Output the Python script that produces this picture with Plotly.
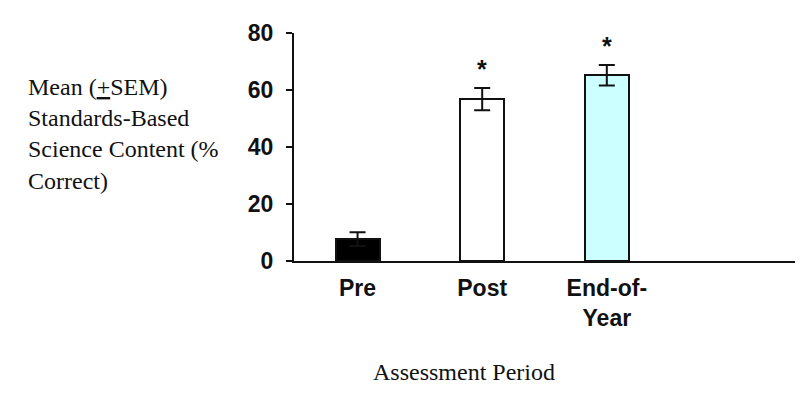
import plotly.graph_objects as go

categories = ["Pre", "Post", "End-of-<br>Year"]
means = [7.7, 56.8, 65.2]
sems = [2.4, 3.9, 3.6]
bar_colors = ["#000000", "#ffffff", "#ccffff"]
significant = [False, True, True]
y_ticks = [0, 20, 40, 60, 80]

x_pos = list(range(len(categories)))

fig = go.Figure()
fig.add_trace(go.Bar(
    x=x_pos, y=means, width=0.353,
    marker=dict(color=bar_colors, line=dict(color="#111111", width=2)),
    error_y=dict(type="data", array=sems, visible=True, color="#111111",
                 thickness=2, width=8),
    showlegend=False,
))

for i, sig in enumerate(significant):
    if sig:
        fig.add_annotation(x=x_pos[i], y=means[i] + sems[i], text="<b>*</b>",
                           showarrow=False, yanchor="bottom", yshift=3,
                           font=dict(family="Liberation Sans, Arial", size=25, color="#111111"))

# page body has an 8px margin, so the figure is drawn 8px in from the corner
fig.update_layout(
    width=799, height=388,
    margin=dict(l=286, r=12, t=23, b=135),
    plot_bgcolor="white", paper_bgcolor="white",
    bargap=0,
    xaxis=dict(
        range=[-0.51, 3.51], tickmode="array", tickvals=x_pos, ticktext=categories,
        showline=True, linecolor="#111111", linewidth=2, showgrid=False,
        zeroline=False, ticks="", ticklabelstandoff=5,
        tickfont=dict(family="Liberation Sans, Arial", size=23, color="#111111", weight="bold"),
    ),
    yaxis=dict(
        range=[0, 80], tickvals=y_ticks, showline=True, linecolor="#111111",
        linewidth=2, showgrid=False, zeroline=False, ticks="outside", ticklen=6,
        tickwidth=2, tickcolor="#111111", ticklabelstandoff=8,
        tickfont=dict(family="Liberation Sans, Arial", size=23, color="#111111", weight="bold"),
    ),
)

fig.add_annotation(
    xref="paper", yref="paper", x=-0.535, y=0.83,
    text="Mean (<u>+</u>SEM)<br>Standards-Based<br>Science Content (%<br>Correct)",
    showarrow=False, xanchor="left", yanchor="top", align="left",
    font=dict(family="Liberation Serif, Times New Roman", size=24, color="#111111"),
)
fig.add_annotation(
    xref="paper", yref="paper", x=0.339, y=-0.422,
    text="Assessment Period", showarrow=False, xanchor="center", yanchor="top",
    font=dict(family="Liberation Serif, Times New Roman", size=24, color="#111111"),
)

fig.write_html("out.html")
